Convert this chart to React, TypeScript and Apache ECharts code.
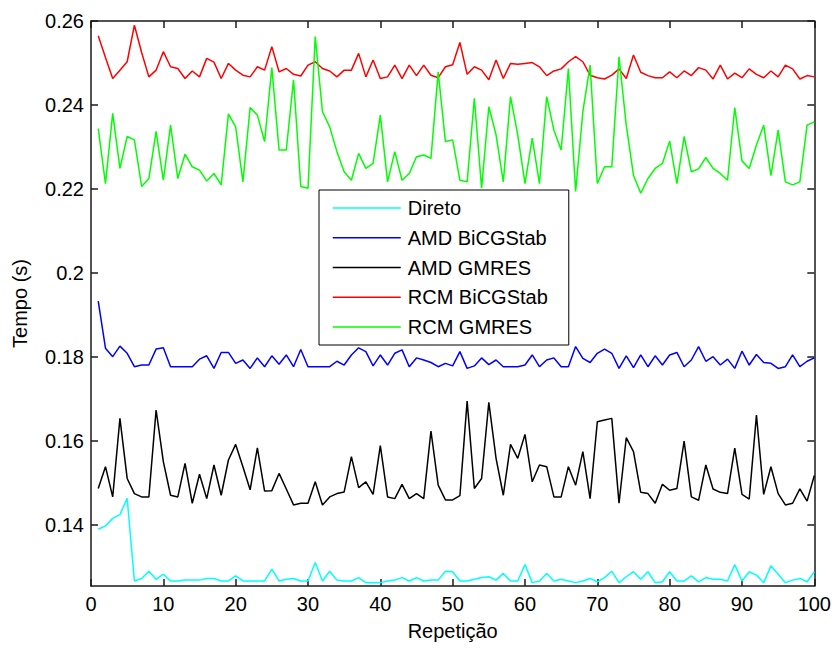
import React, { useEffect, useRef } from "react";
import * as echarts from "echarts";

const seriesNames = ["Direto", "AMD BiCGStab", "AMD GMRES", "RCM BiCGStab", "RCM GMRES"];
const seriesColors = ["#00ffff", "#0000ff", "#000000", "#ff0000", "#00ff00"];

const repeticao = Array.from({ length: 100 }, (_, k) => k + 1);

const xTicks = [0, 10, 20, 30, 40, 50, 60, 70, 80, 90, 100];
const yTicks = [0.14, 0.16, 0.18, 0.2, 0.22, 0.24, 0.26];

const direto = [
  0.1390, 0.1398, 0.1416, 0.1425, 0.1464, 0.1267, 0.1273, 0.1290, 0.1271, 0.1283,
  0.1267, 0.1267, 0.1269, 0.1269, 0.1269, 0.1273, 0.1273, 0.1267, 0.1267, 0.1279,
  0.1267, 0.1267, 0.1267, 0.1267, 0.1295, 0.1267, 0.1271, 0.1273, 0.1267, 0.1267,
  0.1311, 0.1267, 0.1290, 0.1269, 0.1267, 0.1267, 0.1275, 0.1263, 0.1263, 0.1263,
  0.1267, 0.1269, 0.1275, 0.1267, 0.1275, 0.1267, 0.1269, 0.1269, 0.1290, 0.1289,
  0.1267, 0.1267, 0.1271, 0.1275, 0.1277, 0.1269, 0.1285, 0.1267, 0.1267, 0.1306,
  0.1263, 0.1267, 0.1285, 0.1267, 0.1271, 0.1267, 0.1263, 0.1267, 0.1273, 0.1265,
  0.1275, 0.1290, 0.1263, 0.1277, 0.1289, 0.1271, 0.1289, 0.1263, 0.1265, 0.1289,
  0.1267, 0.1267, 0.1279, 0.1265, 0.1275, 0.1271, 0.1271, 0.1267, 0.1306, 0.1267,
  0.1289, 0.1281, 0.1263, 0.1303, 0.1283, 0.1263, 0.1269, 0.1273, 0.1265, 0.1289,
];

const amdBiCGStab = [
  0.1933, 0.1821, 0.1801, 0.1826, 0.1809, 0.1777, 0.1781, 0.1781, 0.1819, 0.1822,
  0.1777, 0.1777, 0.1777, 0.1777, 0.1795, 0.1803, 0.1773, 0.1811, 0.1811, 0.1785,
  0.1793, 0.1773, 0.1798, 0.1777, 0.1803, 0.1783, 0.1805, 0.1777, 0.1818, 0.1777,
  0.1777, 0.1777, 0.1777, 0.1790, 0.1781, 0.1805, 0.1822, 0.1813, 0.1779, 0.1805,
  0.1781, 0.1809, 0.1817, 0.1777, 0.1798, 0.1793, 0.1787, 0.1777, 0.1785, 0.1779,
  0.1813, 0.1773, 0.1779, 0.1798, 0.1782, 0.1793, 0.1777, 0.1777, 0.1777, 0.1781,
  0.1805, 0.1777, 0.1793, 0.1798, 0.1777, 0.1777, 0.1825, 0.1797, 0.1787, 0.1809,
  0.1819, 0.1809, 0.1773, 0.1803, 0.1775, 0.1805, 0.1777, 0.1803, 0.1781, 0.1805,
  0.1811, 0.1777, 0.1793, 0.1825, 0.1790, 0.1801, 0.1781, 0.1795, 0.1773, 0.1814,
  0.1781, 0.1806, 0.1787, 0.1785, 0.1773, 0.1777, 0.1805, 0.1777, 0.1790, 0.1798,
];

const amdGMRES = [
  0.1487, 0.1539, 0.1467, 0.1654, 0.1511, 0.1475, 0.1467, 0.1467, 0.1674, 0.1551,
  0.1471, 0.1467, 0.1547, 0.1452, 0.1521, 0.1463, 0.1543, 0.1471, 0.1555, 0.1592,
  0.1539, 0.1484, 0.1584, 0.1481, 0.1482, 0.1523, 0.1486, 0.1448, 0.1452, 0.1452,
  0.1503, 0.1448, 0.1467, 0.1475, 0.1479, 0.1563, 0.1489, 0.1503, 0.1473, 0.1589,
  0.1467, 0.1463, 0.1497, 0.1463, 0.1475, 0.1463, 0.1624, 0.1495, 0.1460, 0.1460,
  0.1470, 0.1695, 0.1487, 0.1511, 0.1692, 0.1559, 0.1471, 0.1592, 0.1559, 0.1616,
  0.1503, 0.1543, 0.1539, 0.1467, 0.1467, 0.1539, 0.1495, 0.1575, 0.1463, 0.1646,
  0.1650, 0.1654, 0.1452, 0.1608, 0.1575, 0.1478, 0.1475, 0.1452, 0.1497, 0.1483,
  0.1487, 0.1600, 0.1467, 0.1459, 0.1543, 0.1486, 0.1478, 0.1475, 0.1583, 0.1473,
  0.1462, 0.1662, 0.1473, 0.1539, 0.1475, 0.1448, 0.1452, 0.1486, 0.1457, 0.1518,
];

const rcmBiCGStab = [
  0.2565, 0.2513, 0.2463, 0.2483, 0.2503, 0.2590, 0.2525, 0.2467, 0.2483, 0.2527,
  0.2491, 0.2487, 0.2463, 0.2481, 0.2467, 0.2511, 0.2502, 0.2463, 0.2499, 0.2483,
  0.2471, 0.2467, 0.2491, 0.2483, 0.2539, 0.2479, 0.2487, 0.2473, 0.2469, 0.2495,
  0.2503, 0.2487, 0.2481, 0.2467, 0.2483, 0.2483, 0.2523, 0.2467, 0.2507, 0.2463,
  0.2467, 0.2495, 0.2463, 0.2495, 0.2470, 0.2495, 0.2471, 0.2465, 0.2491, 0.2496,
  0.2549, 0.2473, 0.2491, 0.2483, 0.2460, 0.2507, 0.2463, 0.2499, 0.2497, 0.2499,
  0.2501, 0.2491, 0.2470, 0.2481, 0.2486, 0.2503, 0.2515, 0.2503, 0.2471, 0.2465,
  0.2462, 0.2471, 0.2486, 0.2463, 0.2519, 0.2478, 0.2470, 0.2465, 0.2465, 0.2479,
  0.2465, 0.2481, 0.2470, 0.2489, 0.2483, 0.2462, 0.2495, 0.2462, 0.2476, 0.2465,
  0.2486, 0.2473, 0.2465, 0.2481, 0.2467, 0.2495, 0.2486, 0.2462, 0.2470, 0.2467,
];

const rcmGMRES = [
  0.2344, 0.2213, 0.2380, 0.2249, 0.2325, 0.2317, 0.2206, 0.2225, 0.2337, 0.2221,
  0.2352, 0.2225, 0.2283, 0.2253, 0.2245, 0.2219, 0.2237, 0.2210, 0.2379, 0.2348,
  0.2217, 0.2394, 0.2376, 0.2313, 0.2489, 0.2293, 0.2293, 0.2460, 0.2206, 0.2202,
  0.2563, 0.2384, 0.2348, 0.2289, 0.2241, 0.2221, 0.2285, 0.2249, 0.2261, 0.2376,
  0.2217, 0.2289, 0.2221, 0.2237, 0.2277, 0.2281, 0.2273, 0.2479, 0.2313, 0.2317,
  0.2221, 0.2217, 0.2416, 0.2202, 0.2396, 0.2329, 0.2217, 0.2420, 0.2329, 0.2213,
  0.2321, 0.2213, 0.2420, 0.2340, 0.2293, 0.2487, 0.2194, 0.2384, 0.2495, 0.2213,
  0.2253, 0.2253, 0.2515, 0.2352, 0.2233, 0.2190, 0.2225, 0.2249, 0.2261, 0.2314,
  0.2213, 0.2325, 0.2241, 0.2248, 0.2275, 0.2249, 0.2237, 0.2221, 0.2394, 0.2267,
  0.2249, 0.2305, 0.2352, 0.2232, 0.2340, 0.2217, 0.2210, 0.2217, 0.2352, 0.2360,
];

const seriesValues = [direto, amdBiCGStab, amdGMRES, rcmBiCGStab, rcmGMRES];

const FONT = "'Liberation Sans', Arial, Helvetica, sans-serif";
const AXIS_COLOR = "#1a1a1a";

export default function App() {
  const ref = useRef<HTMLDivElement>(null);

  useEffect(() => {
    document.body.style.margin = "0";
    if (!ref.current) return;
    const chart = echarts.init(ref.current, null, { renderer: "svg" });
    const axisLineStyle = { color: AXIS_COLOR, width: 1.5 };
    const labelStyle = { fontSize: 20, color: "#000", fontFamily: FONT };

    chart.setOption({
      animation: false,
      backgroundColor: "#ffffff",
      grid: { left: 91, right: 18, top: 21, bottom: 62, containLabel: false },
      legend: {
        orient: "vertical",
        left: 319,
        top: 190,
        backgroundColor: "#ffffff",
        borderColor: "#000",
        borderWidth: 1,
        borderRadius: 0,
        padding: [8, 21, 8, 13],
        itemWidth: 68,
        itemHeight: 20,
        itemGap: 9.75,
        itemStyle: { opacity: 0 },
        lineStyle: { width: 1.5 },
        textStyle: { ...labelStyle, padding: [0, 0, 0, 2] },
        data: seriesNames,
      },
      xAxis: [
        {
          type: "value",
          min: xTicks[0],
          max: xTicks[xTicks.length - 1],
          interval: 10,
          position: "bottom",
          axisLine: { show: true, onZero: false, lineStyle: axisLineStyle },
          axisTick: { show: true, inside: true, length: 7, lineStyle: axisLineStyle },
          axisLabel: { ...labelStyle, margin: 8 },
          splitLine: { show: false },
          name: "Repetição",
          nameLocation: "middle",
          nameGap: 35,
          nameTextStyle: labelStyle,
        },
        {
          type: "value",
          min: xTicks[0],
          max: xTicks[xTicks.length - 1],
          interval: 10,
          position: "top",
          axisLine: { show: true, onZero: false, lineStyle: axisLineStyle },
          axisTick: { show: true, inside: true, length: 7, lineStyle: axisLineStyle },
          axisLabel: { show: false },
          splitLine: { show: false },
        },
      ],
      yAxis: [
        {
          type: "value",
          min: 0.1255,
          max: 0.26,
          position: "left",
          axisLine: { show: true, onZero: false, lineStyle: axisLineStyle },
          axisTick: { show: true, inside: true, length: 7, lineStyle: axisLineStyle, customValues: yTicks },
          axisLabel: { ...labelStyle, margin: 7, customValues: yTicks, formatter: (v: number) => String(v) },
          splitLine: { show: false },
          name: "Tempo (s)",
          nameLocation: "middle",
          nameRotate: 90,
          nameGap: 61,
          nameTextStyle: labelStyle,
        },
        {
          type: "value",
          min: 0.1255,
          max: 0.26,
          position: "right",
          axisLine: { show: true, onZero: false, lineStyle: axisLineStyle },
          axisTick: { show: true, inside: true, length: 7, lineStyle: axisLineStyle, customValues: yTicks },
          axisLabel: { show: false },
          splitLine: { show: false },
        },
      ],
      series: seriesNames.map((name, s) => ({
        name,
        type: "line",
        xAxisIndex: 0,
        yAxisIndex: 0,
        data: repeticao.map((x, k) => [x, seriesValues[s][k]]),
        symbol: "none",
        showSymbol: false,
        lineStyle: { color: seriesColors[s], width: 1.5 },
        itemStyle: { color: seriesColors[s] },
        emphasis: { disabled: true },
      })),
    });

    return () => chart.dispose();
  }, []);

  return <div ref={ref} style={{ width: 834, height: 648 }} />;
}
